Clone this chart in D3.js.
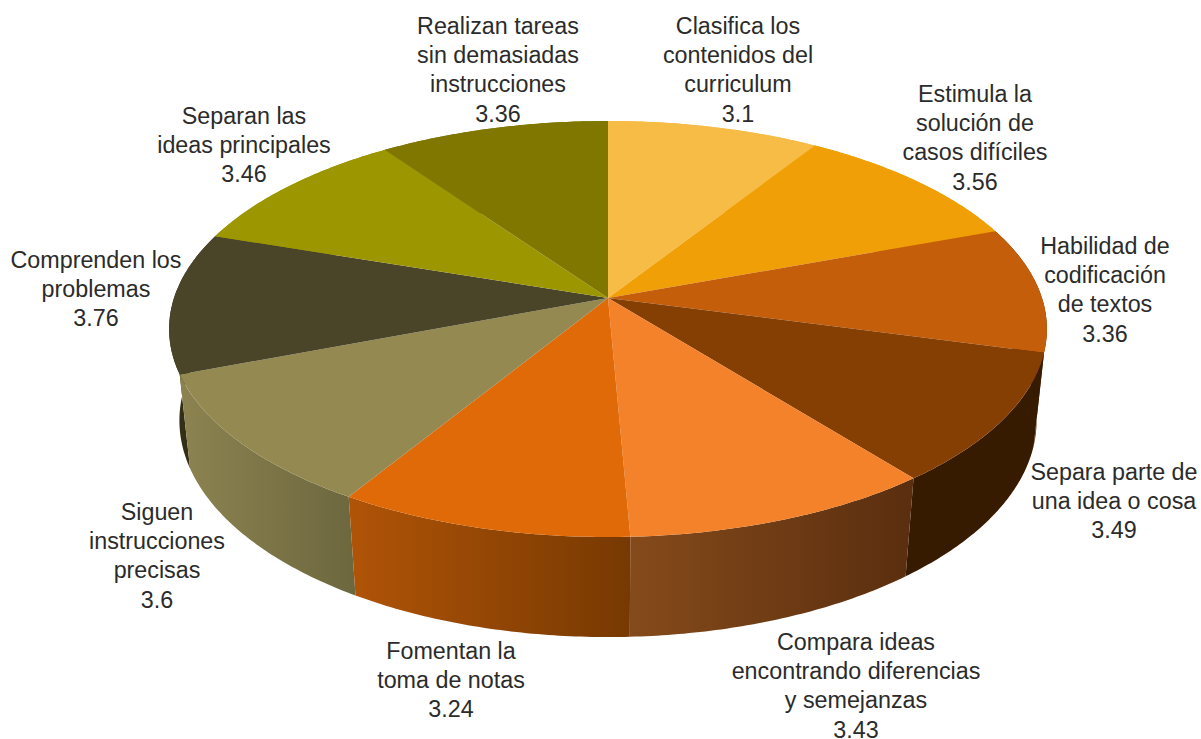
<!DOCTYPE html>
<html><head><meta charset="utf-8">
<script src="https://cdn.jsdelivr.net/npm/d3@7"></script>
<style>html,body{margin:0;padding:0;background:#fff}svg{display:block}</style>
</head><body><div id="c"></div>
<script>
const labelLines = [
 ["Clasifica los","contenidos del","curriculum"],
 ["Estimula la","solución de","casos difíciles"],
 ["Habilidad de","codificación","de textos"],
 ["Separa parte de","una idea o cosa"],
 ["Compara ideas","encontrando diferencias","y semejanzas"],
 ["Fomentan la","toma de notas"],
 ["Siguen","instrucciones","precisas"],
 ["Comprenden los","problemas"],
 ["Separan las","ideas principales"],
 ["Realizan tareas","sin demasiadas","instrucciones"]
];
const values = [3.1,3.56,3.36,3.49,3.43,3.24,3.6,3.76,3.46,3.36];
const valueText = ["3.1","3.56","3.36","3.49","3.43","3.24","3.6","3.76","3.46","3.36"];
const topColors = ["#F7BC45","#F0A006","#C55E0A","#863F03","#F4822A","#E06908","#948951","#4A4429","#9C9600","#7F7700"];
const wallStart = ["#F7BC45","#F0A006","#5a2b04","#371B00","#854A1A","#B05407","#8C8350","#332E16","#9C9600","#7F7700"];
const wallEnd   = ["#F7BC45","#F0A006","#5a2b04","#371B00","#5A2E0F","#773902","#6D673F","#332E16","#9C9600","#7F7700"];

const W=1201,H=739;
const cx=608,cy=298,R=434,K=203.4,P=0.149,DROP=93.1,Q=0.0235;
// label layout: centre x and first-line baseline
const labelX=[738,975,1105,1114,856,451,157,96,244,498];
const labelY=[34,102,254,480,650,659,520,268,124,34];
const lineStep=29.2;

function proj(theta,low){
  const u=Math.sin(theta),v=-Math.cos(theta);
  const w=1-P*v+(low?Q:0);
  return [cx+R*u/w, cy+(K*v+(low?DROP:0))/w];
}
const svg=d3.select("#c").append("svg").attr("width",W).attr("height",H);
const defs=svg.append("defs");
const arcs=d3.pie().sort(null).value(d=>d)(values);
const line=d3.line();
const arcPts=(a,low)=>{
  const n=Math.max(8,Math.ceil((a.endAngle-a.startAngle)*90));
  return d3.range(n+1).map(i=>proj(a.startAngle+(a.endAngle-a.startAngle)*i/n,low));
};
// walls, far ones first
const order=d3.range(arcs.length).sort((i,j)=>
  -Math.cos((arcs[i].startAngle+arcs[i].endAngle)/2)-(-Math.cos((arcs[j].startAngle+arcs[j].endAngle)/2)));
order.forEach(i=>{
  const a=arcs[i],up=arcPts(a,false),lo=arcPts(a,true);
  const xs=up.concat(lo).map(p=>p[0]);
  const g=defs.append("linearGradient").attr("id","w"+i).attr("gradientUnits","userSpaceOnUse")
    .attr("x1",d3.min(xs)).attr("x2",d3.max(xs)).attr("y1",0).attr("y2",0);
  g.append("stop").attr("offset",0).attr("stop-color",wallStart[i]);
  g.append("stop").attr("offset",1).attr("stop-color",wallEnd[i]);
  svg.append("path").attr("d",line(up.concat(lo.reverse()))+"Z").attr("fill",`url(#w${i})`);
});
// tops
svg.append("g").selectAll("path").data(arcs).join("path")
  .attr("d",a=>line([[cx,cy]].concat(arcPts(a,false)))+"Z")
  .attr("fill",(a,i)=>topColors[i]);
// labels
const t=svg.append("g").attr("font-family","'Liberation Sans',Arial,sans-serif").attr("font-size",23.3)
  .attr("fill","#2b2b2b").attr("text-anchor","middle");
labelLines.forEach((ls,i)=>{
  const el=t.append("text").attr("x",labelX[i]).attr("y",labelY[i]);
  ls.concat([valueText[i]]).forEach((s,j)=>{
    el.append("tspan").attr("x",labelX[i]).attr("y",labelY[i]+j*lineStep).text(s);
  });
});
</script></body></html>
